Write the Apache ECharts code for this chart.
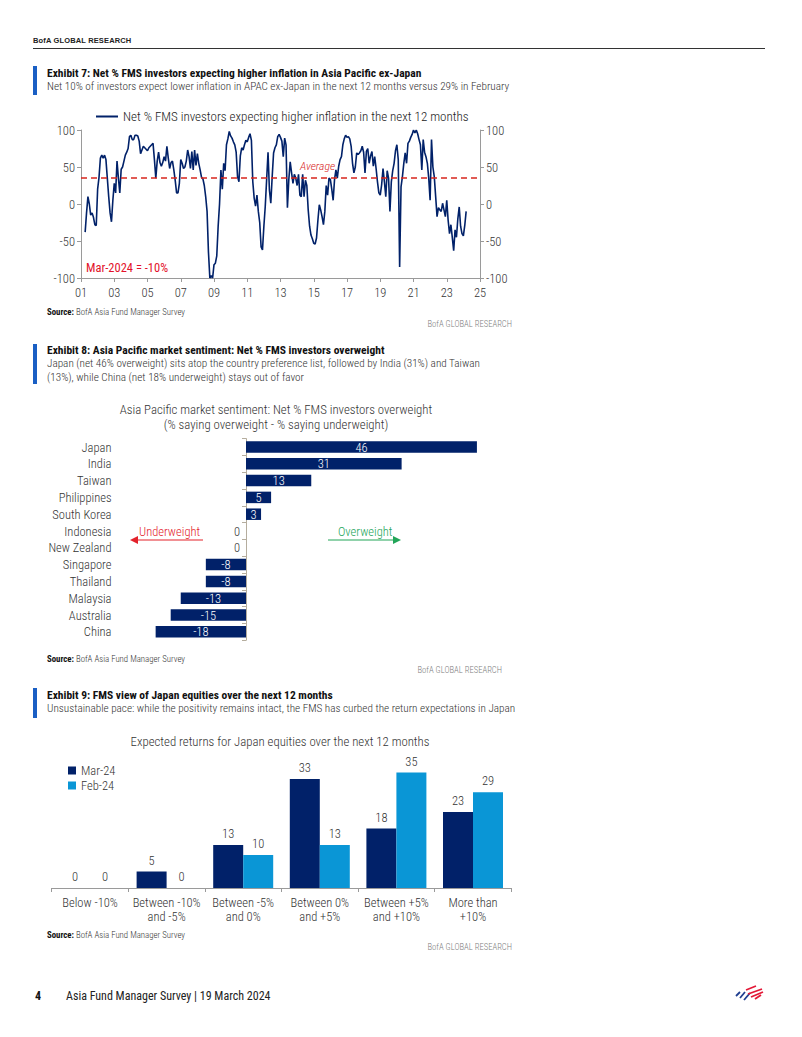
<!DOCTYPE html>
<html><head><meta charset="utf-8">
<script src="https://cdn.jsdelivr.net/npm/echarts@6/dist/echarts.min.js"></script>
<style>
html,body{margin:0;padding:0;background:#fff;}
body{width:802px;height:1037px;position:relative;overflow:hidden;font-family:"Roboto Condensed",Roboto,sans-serif;color:#222;}
#chart{position:absolute;left:0;top:0;width:802px;height:1037px;z-index:1;}
.t{position:absolute;white-space:nowrap;z-index:2;}
.bar{position:absolute;left:33px;width:4px;background:#1a5fc4;z-index:2;}
.ttl{left:47px;font-weight:bold;font-size:11.5px;line-height:13px;color:#111;}
.sub{left:47px;font-size:11.2px;line-height:13.5px;color:#333;font-weight:300;}
.src{left:47px;font-size:8.8px;line-height:10px;color:#333;font-weight:300;}
.src b{color:#111;font-weight:bold;}
.brand{font-size:8.6px;line-height:10px;color:#808080;text-align:right;font-weight:300;}
</style></head>
<body>
<div class="t" style="left:33px;top:36px;font-family:'Liberation Sans',Arial,sans-serif;font-weight:bold;font-size:7.5px;line-height:10px;letter-spacing:0.15px;color:#222;">BofA GLOBAL RESEARCH</div>
<div style="position:absolute;left:33px;top:48px;width:732px;height:1px;background:#333;"></div>

<div class="bar" style="top:66px;height:29px;"></div>
<div class="t ttl" style="top:67px;">Exhibit 7: Net % FMS investors expecting higher inflation in Asia Pacific ex-Japan</div>
<div class="t sub" style="top:80px;">Net 10% of investors expect lower inflation in APAC ex-Japan in the next 12 months versus 29% in February</div>
<div class="t src" style="top:307px;"><b>Source:</b> BofA Asia Fund Manager Survey</div>
<div class="t brand" style="right:290px;top:319px;">BofA GLOBAL RESEARCH</div>

<div class="bar" style="top:344px;height:40px;"></div>
<div class="t ttl" style="top:344px;">Exhibit 8: Asia Pacific market sentiment: Net % FMS investors overweight</div>
<div class="t sub" style="top:357px;">Japan (net 46% overweight) sits atop the country preference list, followed by India (31%) and Taiwan<br>(13%), while China (net 18% underweight) stays out of favor</div>
<div class="t src" style="top:654px;"><b>Source:</b> BofA Asia Fund Manager Survey</div>
<div class="t brand" style="right:300px;top:665px;">BofA GLOBAL RESEARCH</div>

<div class="bar" style="top:688px;height:30px;"></div>
<div class="t ttl" style="top:689px;">Exhibit 9: FMS view of Japan equities over the next 12 months</div>
<div class="t sub" style="top:702px;">Unsustainable pace: while the positivity remains intact, the FMS has curbed the return expectations in Japan</div>
<div class="t src" style="top:930px;"><b>Source:</b> BofA Asia Fund Manager Survey</div>
<div class="t brand" style="right:290px;top:942px;">BofA GLOBAL RESEARCH</div>

<div class="t" style="left:35px;top:989px;font-size:12px;line-height:14px;font-weight:bold;color:#111;">4</div>
<div class="t" style="left:66px;top:989px;font-size:12px;line-height:14px;color:#222;">Asia Fund Manager Survey | 19 March 2024</div>
<svg class="t" style="left:734px;top:984px;" width="32" height="20" viewBox="0 0 32 20">
  <g stroke-linecap="butt">
    <line x1="2" y1="12" x2="6" y2="8" stroke="#1f3e8f" stroke-width="1.8"/>
    <line x1="6" y1="14" x2="11" y2="8" stroke="#1f3e8f" stroke-width="1.8"/>
    <line x1="10" y1="16" x2="16" y2="9" stroke="#1f3e8f" stroke-width="1.8"/>
    <line x1="12" y1="6" x2="22" y2="2" stroke="#e31837" stroke-width="1.8"/>
    <line x1="14" y1="10" x2="28" y2="5" stroke="#e31837" stroke-width="1.8"/>
    <line x1="17" y1="13" x2="29" y2="8" stroke="#e31837" stroke-width="1.8"/>
    <line x1="21" y1="15" x2="27" y2="11" stroke="#e31837" stroke-width="1.8"/>
  </g>
</svg>

<div id="chart"></div>
<script>
// ---------- Exhibit 7: net % expecting higher inflation (monthly, Apr-2001 .. Mar-2024) ----------
const inflationStartYear = 2001;
const inflationStartMonth = 4;
const netInflation = [
  -38, -12, 10, 0, -15, -12, -18, -28, -29, 20, 36,
  62, 66, 62, 66, 60, 35, 10, -12, -24, 5, 28, 15,
  58, 35, 15, 47, 50, 58, 66, 70, 75, 91, 93, 87,
  87, 93, 93, 92, 85, 68, 73, 78, 76, 74, 72, 76,
  78, 80, 82, 60, 35, 58, 70, 56, 51, 56, 64,
  58, 78, 62, 48, 56, 58, 46, 32, 15, 15, 28, 60,
  55, 48, 50, 58, 73, 64, 48, 71, 46, 73, 52, 68,
  55, 46, 36, 34, 25, 10, -10, -65, -100, -97, -100, -82,
  -80, -70, -30, 0, 46, 20, 55, 45, 80, 88, 98, 92,
  89, 84, 80, 70, 37, 30, 65, 76, 73, 80, 86, 84,
  90, 95, 86, 30, 8, -3, 12, -10, -25, -58, -62, -30,
  -3, 33, 70, 19, 1, 37, 69, 76, 80, 91, 94, 90,
  85, 64, 89, 80, -5, 33, 57, 42, 28, 40, 35, 25,
  40, 12, 10, 40, 10, 32, 25, -8, -30, -42, -47, -53,
  -54, -46, -22, -1, -8, -17, -28, -10, 25, 12, 35,
  33, 20, 5, 33, 46, 35, 51, 60, 64, 80, 88, 93,
  90, 91, 88, 78, 55, 42, 50, 69, 67, 69, 72, 78,
  70, 42, 71, 75, 55, 65, 71, 51, 64, 48, 30, 15,
  12, 26, 48, 30, 10, 45, 35, -10, 30, 45, 55, 72,
  80, 60, -85, 23, 37, 55, 69, 55, 82, 85, 90, 94,
  100, 96, 100, 95, 87, 80, 46, 87, 70, 64, 55, 35,
  5, 87, 50, 37, 10, -17, -5, -8, -10, 1, -8, -17,
  5, -22, -40, -28, -45, -63, -35, -45, -20, -4, -30, -40,
  -43, -29, -10
];
const inflationAverage = 36;
const inflationTickLabels = ['01','03','05','07','09','11','13','15','17','19','21','23','25'];
const inflationSeriesName = 'Net % FMS investors expecting higher inflation in the next 12 months';

// ---------- Exhibit 8 ----------
const countries = ['Japan','India','Taiwan','Philippines','South Korea','Indonesia','New Zealand','Singapore','Thailand','Malaysia','Australia','China'];
const netOverweight = [46, 31, 13, 5, 3, 0, 0, -8, -8, -13, -15, -18];

// ---------- Exhibit 9 ----------
const returnBuckets = ['Below -10%','Between -10%\nand -5%','Between -5%\nand 0%','Between 0%\nand +5%','Between +5%\nand +10%','More than\n+10%'];
const mar24 = [0, 5, 13, 33, 18, 23];
const feb24 = [0, 0, 10, 13, 35, 29];

const FONT = '"Roboto Condensed",Roboto,sans-serif';
const W = 300;
const NAVY = '#012169';
const LIGHT = '#0a96d6';
const AXIS = '#9a9a9a';
const TXT = '#333';

const chart = echarts.init(document.getElementById('chart'), null, {renderer: 'svg'});

const inflationData = netInflation.map((v, i) => [(inflationStartMonth - 1 + i) / 12, v]);

const option = {
  animation: false,
  textStyle: {fontFamily: FONT, fontWeight: W},
  title: [
    {text: 'Asia Pacific market sentiment: Net % FMS investors overweight\n(% saying overweight - % saying underweight)',
     left: 276, top: 402, textAlign: 'center', padding: 0,
     textStyle: {fontSize: 12.8, fontWeight: W, color: TXT, lineHeight: 15, fontFamily: FONT}},
    {text: 'Expected returns for Japan equities over the next 12 months',
     left: 280, top: 734, textAlign: 'center', padding: 0,
     textStyle: {fontSize: 12.8, fontWeight: W, color: TXT, lineHeight: 15, fontFamily: FONT}}
  ],
  legend: [
    {data: [inflationSeriesName], left: 96, top: 110, padding: 0, icon: 'rect', itemWidth: 22, itemHeight: 2,
     selectedMode: false, textStyle: {fontSize: 13, fontWeight: W, color: '#222', fontFamily: FONT}},
    {data: ['Mar-24', 'Feb-24'], left: 68, top: 764, orient: 'vertical', padding: 0, icon: 'rect',
     itemWidth: 8, itemHeight: 8, itemGap: 2, selectedMode: false,
     textStyle: {fontSize: 12.5, fontWeight: W, color: TXT, fontFamily: FONT}}
  ],
  grid: [
    {left: 81, top: 130, width: 399, height: 148},
    {left: 120.5, top: 438.6, width: 376.5, height: 201.6},
    {left: 51.7, top: 756, width: 459.6, height: 132}
  ],
  xAxis: [
    {gridIndex: 0, type: 'value', min: 0, max: 24, interval: 2,
     axisLine: {show: true, onZero: false, lineStyle: {color: AXIS}},
     axisTick: {show: true, length: 4, lineStyle: {color: AXIS}},
     axisLabel: {formatter: v => inflationTickLabels[Math.round(v / 2)], color: TXT, fontSize: 12.5, fontWeight: W, margin: 8},
     splitLine: {show: false}},
    {gridIndex: 1, type: 'value', min: -25, max: 50, show: false, splitLine: {show: false}},
    {gridIndex: 2, type: 'category', data: returnBuckets,
     axisLine: {show: true, lineStyle: {color: AXIS}},
     axisTick: {show: true, length: 4, lineStyle: {color: AXIS}},
     axisLabel: {interval: 0, color: TXT, fontSize: 12.5, fontWeight: W, lineHeight: 14, margin: 7}}
  ],
  yAxis: [
    {gridIndex: 0, type: 'value', position: 'left', min: -100, max: 100, interval: 50,
     axisLine: {show: true, onZero: false, lineStyle: {color: AXIS}},
     axisTick: {show: true, length: 4, lineStyle: {color: AXIS}},
     axisLabel: {color: TXT, fontSize: 12.5, fontWeight: W, margin: 6}, splitLine: {show: false}},
    {gridIndex: 0, type: 'value', position: 'right', min: -100, max: 100, interval: 50,
     axisLine: {show: true, onZero: false, lineStyle: {color: AXIS}},
     axisTick: {show: true, length: 4, lineStyle: {color: AXIS}},
     axisLabel: {color: TXT, fontSize: 12.5, fontWeight: W, margin: 6}, splitLine: {show: false}},
    {gridIndex: 1, type: 'category', data: countries, inverse: true, position: 'left',
     axisLine: {show: false, onZero: false}, axisTick: {show: false},
     axisLabel: {interval: 0, color: TXT, fontSize: 12.5, fontWeight: W, margin: 9}},
    {gridIndex: 1, type: 'category', data: countries, inverse: true, position: 'left',
     axisLine: {show: true, onZero: true, lineStyle: {color: '#b5ad9e'}},
     axisTick: {show: true, interval: 0, length: 4, lineStyle: {color: '#b5ad9e'}},
     axisLabel: {show: false}},
    {gridIndex: 2, type: 'value', min: 0, max: 40, show: false, splitLine: {show: false}}
  ],
  series: [
    {name: inflationSeriesName, type: 'line', xAxisIndex: 0, yAxisIndex: 0,
     data: inflationData, symbol: 'none', color: NAVY,
     lineStyle: {color: NAVY, width: 1.6},
     markLine: {silent: true, symbol: 'none', label: {show: false},
       lineStyle: {color: '#d7261e', type: [6, 4], width: 1.5},
       data: [{yAxis: inflationAverage}]}},
    {type: 'bar', xAxisIndex: 1, yAxisIndex: 2, barWidth: 11.5,
     itemStyle: {color: NAVY},
     label: {show: true, position: 'inside', color: '#fff', fontSize: 12.5, fontWeight: W},
     data: netOverweight.map(v => v === 0
       ? {value: v, label: {position: 'left', color: TXT, distance: 6}}
       : v)},
    {name: 'Mar-24', type: 'bar', xAxisIndex: 2, yAxisIndex: 4, barWidth: 30, barGap: '0%',
     color: NAVY, itemStyle: {color: NAVY},
     label: {show: true, position: 'top', color: TXT, fontSize: 12.5, fontWeight: W, distance: 5},
     data: mar24},
    {name: 'Feb-24', type: 'bar', xAxisIndex: 2, yAxisIndex: 4, barWidth: 30, barGap: '0%',
     color: LIGHT, itemStyle: {color: LIGHT},
     label: {show: true, position: 'top', color: TXT, fontSize: 12.5, fontWeight: W, distance: 5},
     data: feb24}
  ],
  graphic: [
    {type: 'text', left: 300, top: 160, style: {text: 'Average', fill: '#d7261e', font: 'italic 300 11.7px ' + FONT}},
    {type: 'text', left: 86, top: 261, style: {text: 'Mar-2024 = -10%', fill: '#e3122b', font: '400 12.5px ' + FONT}},
    {type: 'text', left: 139, top: 525, style: {text: 'Underweight', fill: '#e3222b', font: '300 12.5px ' + FONT}},
    {type: 'line', shape: {x1: 134, y1: 540, x2: 203, y2: 540}, style: {stroke: '#e3222b', lineWidth: 1.2}},
    {type: 'polygon', shape: {points: [[130, 540], [138, 536], [138, 544]]}, style: {fill: '#e3222b'}},
    {type: 'text', left: 338, top: 525, style: {text: 'Overweight', fill: '#22a559', font: '300 12.5px ' + FONT}},
    {type: 'line', shape: {x1: 328, y1: 540, x2: 396, y2: 540}, style: {stroke: '#22a559', lineWidth: 1.2}},
    {type: 'polygon', shape: {points: [[401, 540], [393, 536], [393, 544]]}, style: {fill: '#22a559'}}
  ]
};
chart.setOption(option);
</script>
</body></html>
